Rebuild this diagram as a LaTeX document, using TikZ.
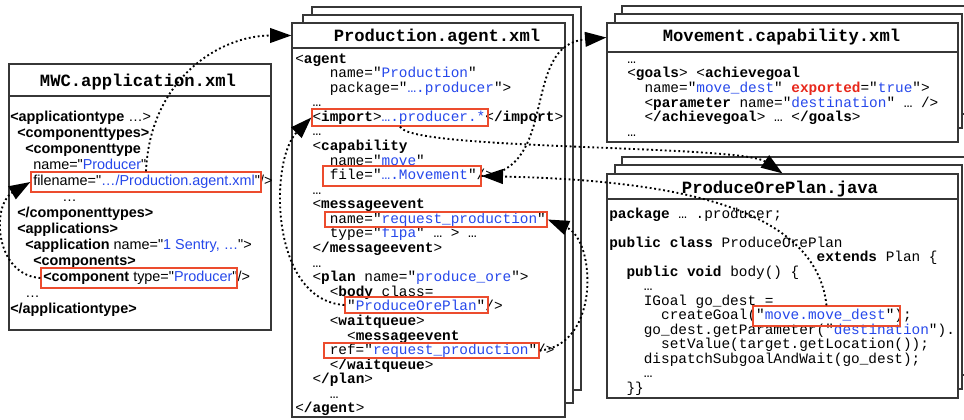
\documentclass[tikz,border=0pt]{standalone}
\usepackage{fontspec}
\newfontfamily\mwcfam{Liberation Sans}
\newfontfamily\monofam{Liberation Mono}
\usetikzlibrary{arrows.meta,fit}

\definecolor{valblue}{RGB}{38,72,235}
\definecolor{markred}{RGB}{236,76,46}
\definecolor{keyred}{RGB}{232,40,28}
\definecolor{boxgray}{RGB}{55,55,55}

\newcommand\indnt[1]{\hspace*{#1\dimexpr0.6em\relax}\ignorespaces}
\newcommand\valtxt[1]{\textcolor{valblue}{#1}}
\newcommand\tagtxt[1]{\textbf{#1}}
\newcommand\codefont{\monofam\fontsize{10.8}{12}\selectfont}
\newcommand\mwcfont{\mwcfam\fontsize{10.8}{12}\selectfont}
\newcommand\headfont{\monofam\bfseries\fontsize{12.9}{14}\selectfont}

\begin{document}
\begin{tikzpicture}[x=0.75pt, y=-0.75pt,
  sheet/.style={draw=boxgray, line width=0.9pt, fill=white, inner sep=0pt},
  band/.style={draw=boxgray, line width=0.9pt, inner sep=0pt},
  headtext/.style={anchor=base, inner sep=0pt, font=\headfont},
  redbox/.style={draw=markred, line width=1pt, inner sep=0pt},
  codeline/.style={anchor=base west, inner sep=0pt, font=\codefont},
  mwcline/.style={anchor=base west, inner sep=0pt, font=\mwcfont},
  link/.style={dotted, line width=1.4pt, -{Triangle[length=16pt,width=11pt]}}]
\useasboundingbox (0,0) rectangle (964,419);

% MWC.application.xml
\node[sheet, fit={(9,64)(271,330)}] (mwc) {};
\node[band, fit={(9,64)(271,96)}] (mwcT) {};
\node[headtext] (mwcTxt) at (138,86) {MWC.application.xml};
\foreach \xx/\txt [count=\i] in {
  10/{\tagtxt{<applicationtype} …>},
  17/{\tagtxt{<componenttypes>}},
  25/{\tagtxt{<componenttype}},
  33/{name="\valtxt{Producer}"},
  33/{filename="\valtxt{…/Production.agent.xml}"/>},
  62/{…},
  17/{\tagtxt{</componenttypes>}},
  17/{\tagtxt{<applications>}},
  25/{\tagtxt{<application} name="\valtxt{1 Sentry, …}">},
  33/{\tagtxt{<components>}},
  43/{\tagtxt{<component} type="\valtxt{Producer}"/>},
  25/{…},
  10/{\tagtxt{</applicationtype>}}}
  \node[mwcline] (mwc\i) at (\xx,{121+16*(\i-1)}) {\txt};
\node[redbox, fit={(31,172)(261,192)}] (fnbox) {};
\node[redbox, fit={(41,268)(237,288)}] (cmpbox) {};

% Production.agent.xml
\draw[sheet] (312,7) rectangle (581,390);
\draw[sheet] (303,15) rectangle (573,403);
\node[sheet, fit={(292,23)(565,417)}] (agent) {};
\node[band, fit={(292,23)(565,48)}] (agentT) {};
\node[headtext] (agentTxt) at (437,41) {Production.agent.xml};
\foreach \txt [count=\i] in {
  {<\tagtxt{agent}},
  {\indnt{4}name="\valtxt{Production}"},
  {\indnt{4}package="\valtxt{….producer}">},
  {\indnt{2}…},
  {\indnt{2}<\tagtxt{import}>\valtxt{….producer.*}<\tagtxt{/import}>},
  {\indnt{2}…},
  {\indnt{2}<\tagtxt{capability}},
  {\indnt{4}name="\valtxt{move}"},
  {\indnt{4}file="\valtxt{….Movement}"/>},
  {\indnt{2}…},
  {\indnt{2}<\tagtxt{messageevent}},
  {\indnt{4}name="\valtxt{request\_production}"},
  {\indnt{4}type="\valtxt{fipa}" … > …},
  {\indnt{2}<\tagtxt{/messageevent}>},
  {\indnt{2}…},
  {\indnt{2}<\tagtxt{plan} name="\valtxt{produce\_ore}">},
  {\indnt{4}<\tagtxt{body} class=},
  {\indnt{6}"\valtxt{ProduceOrePlan}"/>},
  {\indnt{4}<\tagtxt{waitqueue}>},
  {\indnt{6}<\tagtxt{messageevent}},
  {\indnt{4}ref="\valtxt{request\_production}"/>},
  {\indnt{4}<\tagtxt{/waitqueue}>},
  {\indnt{2}<\tagtxt{/plan}>},
  {\indnt{4}…},
  {<\tagtxt{/agent}>}}
  \node[codeline] (agent\i) at (295,{63+14.58*(\i-1)}) {\txt};
\node[redbox, fit={(312,109)(488,126)}] (impbox) {};
\node[redbox, fit={(323,166)(481,186)}] (filebox) {};
\node[redbox, fit={(325,212)(547,227)}] (namebox) {};
\node[redbox, fit={(345,297)(488,313)}] (planbox) {};
\node[redbox, fit={(324,343)(539,358)}] (refbox) {};

% Movement.capability.xml
\draw[sheet] (622,6) rectangle (966,114);
\draw[sheet] (615,14) rectangle (962,128);
\node[sheet, fit={(607,23)(958,142)}] (mv) {};
\node[band, fit={(607,23)(958,52)}] (mvT) {};
\node[headtext] (mvTxt) at (781.5,41) {Movement.capability.xml};
\foreach \txt [count=\i] in {
  {…},
  {<\tagtxt{goals}> <\tagtxt{achievegoal}},
  {\indnt{2}name="\valtxt{move\_dest}" \textcolor{keyred}{\tagtxt{exported}}="\valtxt{true}">},
  {\indnt{2}<\tagtxt{parameter} name="\valtxt{destination}" … />},
  {\indnt{2}<\tagtxt{/achievegoal}> … <\tagtxt{/goals}>},
  {…}}
  \node[codeline] (mv\i) at (627,{63+14.7*(\i-1)}) {\txt};

% ProduceOrePlan.java
\draw[sheet] (622,157) rectangle (966,375);
\draw[sheet] (615,165) rectangle (962,389);
\node[sheet, fit={(607,174)(958,398)}] (java) {};
\node[band, fit={(607,174)(958,199)}] (javaT) {};
\node[headtext] (javaTxt) at (780,193) {ProduceOrePlan.java};
\foreach \row/\txt in {
  1/{\tagtxt{package} … .producer;},
  3/{\tagtxt{public class} ProduceOrePlan},
  4/{\indnt{24}\tagtxt{extends} Plan \{},
  5/{\indnt{2}\tagtxt{public void} body() \{},
  6/{\indnt{4}…},
  7/{\indnt{4}IGoal go\_dest =},
  8/{\indnt{6}createGoal("\valtxt{move.move\_dest}");},
  9/{\indnt{4}go\_dest.getParameter("\valtxt{destination}").},
  10/{\indnt{6}setValue(target.getLocation());},
  11/{\indnt{4}dispatchSubgoalAndWait(go\_dest);},
  12/{\indnt{4}…},
  13/{\indnt{2}\}\}}}
  \node[codeline] (java\row) at (609,{218+14.5*(\row-1)}) {\txt};
\node[redbox, fit={(753,306)(900,326)}] (goalbox) {};

% references
\draw[link] (fnbox.north) .. controls +(4,-92) and +(-72,0) .. (agentT.west);
\draw[link] (cmpbox.west) .. controls +(-46,-3) and +(-39,23) .. (fnbox.west);
\draw[link] (planbox.west) .. controls +(-75,-5) and +(-42,42.5) .. (impbox.west);
\draw[link] (filebox.east) .. controls +(79,-6) and +(-87,7.5) .. (mvT.west);
\draw[link] (goalbox.north) .. controls +(-11.5,-106) and +(169,4) .. (filebox.east);
\draw[link] (impbox.south) .. controls +(10,24) and +(-42.5,-29) .. (javaT.north);
\draw[link] (refbox.east) .. controls +(61,-5.5) and +(48,20.5) .. (namebox.east);
\end{tikzpicture}
\end{document}
